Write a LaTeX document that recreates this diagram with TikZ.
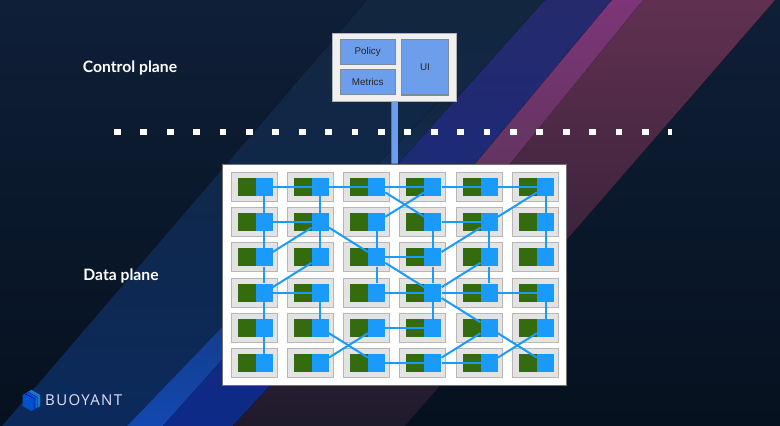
\documentclass[tikz,border=0pt]{standalone}
\usepackage{fontspec}
\usepackage{tikz}
\usetikzlibrary{positioning}
\setmainfont{Lato}
\newfontfamily\boxfont{Liberation Sans}
\newfontfamily\logofont[LetterSpace=9]{Open Sans}
\definecolor{bgtop}{HTML}{0F1F38}
\definecolor{bgbot}{HTML}{06111F}
\definecolor{widetop}{HTML}{12263E}
\definecolor{widebot}{HTML}{0B2A5C}
\definecolor{bluetop}{HTML}{262A6C}
\definecolor{bluemid}{HTML}{14285C}
\definecolor{bluebot}{HTML}{0D2A88}
\definecolor{brightbot}{HTML}{1348B0}
\definecolor{redtop}{HTML}{613050}
\definecolor{redmid}{HTML}{4A2A45}
\definecolor{redbot}{HTML}{1F1A2C}
\definecolor{magtop}{HTML}{7C3578}
\definecolor{magmid}{HTML}{7F3370}
\definecolor{magbot}{HTML}{633460}
\definecolor{boxblue}{HTML}{6D9EEB}
\definecolor{boxline}{HTML}{7F8A99}
\definecolor{podgray}{HTML}{E3E3E3}
\definecolor{podline}{HTML}{B7B7B7}
\definecolor{podgreen}{HTML}{336B0E}
\definecolor{proxyblue}{HTML}{1A9BFC}
\tikzset{
	podbox/.style={rectangle,draw=podline,fill=podgray,line width=1pt,minimum width=46pt,minimum height=29pt,inner sep=0pt},
	podapp/.style={rectangle,fill=podgreen,minimum width=18pt,minimum height=18pt,inner sep=0pt},
	podproxy/.style={rectangle,fill=proxyblue,minimum width=17pt,minimum height=18pt,inner sep=0pt},
	link/.style={every edge/.style={draw=proxyblue,line width=2pt}},
	ctrlbox/.style={rectangle,draw=boxline,fill=boxblue,line width=1.2pt,inner sep=0pt,font=\boxfont\fontsize{9.8}{11}\selectfont,text=black!85},
	title/.style={text=white,font=\bfseries\fontsize{15.7}{18}\selectfont,inner sep=0pt}
}
% one pod: gray box, green app, blue proxy on top
\def\pod#1#2{%
\coordinate[#2] (c#1);
\node[podbox]		(b#1)	at ([xshift=-10pt]c#1)		{};
\node[podapp]		(a#1)	at ([xshift=-17.5pt]c#1)	{};
\node[podproxy]		(#1)	at (c#1)					{};
}
\begin{document}
\begin{tikzpicture}[x=1pt,y=-1pt,node distance=35.2pt and 56.3pt,on grid]
\useasboundingbox (0,0) rectangle (780,426);
% background bands
\fill[top color=bgtop,bottom color=bgbot] (0,0) rectangle (780,426);
\fill[top color=widetop,bottom color=widebot] (367,0) -- (545,0) -- (163,426) -- (2,426) -- cycle;
\fill[top color=widetop,bottom color=brightbot] (440,100) -- (476,100) -- (163,426) -- (127,426) -- cycle;
\fill[top color=bluetop,middle color=bluemid,bottom color=bluebot] (545,0) -- (612,0) -- (470,170) -- (233,426) -- (163,426) -- cycle;
\fill[top color=redtop,middle color=redmid,bottom color=redbot] (612,0) -- (775,0) -- (405,426) -- (233,426) -- (470,170) -- cycle;
\fill[top color=magtop,middle color=magmid,bottom color=magbot] (612,0) -- (643,0) -- (505,170) -- (470,170) -- cycle;
% dotted divider
\coordinate (dl) at (114,132);
\coordinate (dr) at (672.2,132);
\draw[white,line width=6.5pt,dash pattern=on 6.8pt off 19.6pt] (dl) -- (dr);
% planes
\node[rectangle,draw=black!55,fill=white,line width=.8pt,minimum width=344pt,minimum height=221pt,inner sep=0pt] (panel) at (394.6,274.5) {};
\node[rectangle,draw=black!30,fill=black!6,line width=1pt,minimum width=124pt,minimum height=67.6pt,inner sep=0pt] (control) at (394.7,67.2) {};
\draw[boxblue,line width=6.5pt] (control) -- (panel);
\node[ctrlbox,minimum width=55pt,minimum height=25.7pt]		(policy)	[above left=15.2pt and 27pt of control]		{Policy};
\node[ctrlbox,minimum width=55pt,minimum height=25.7pt]		(metrics)	[below=30pt of policy]						{Metrics};
\node[ctrlbox,minimum width=46.6pt,minimum height=55.7pt]	(ui)		[right=30.3pt of control]					{UI};
\node[title]	(cplane)	at (130,68)		{Control plane};
\node[title]	(dplane)	at (121,276)	{Data plane};
% pods
\pod{n00}{above left=87.5pt and 130.6pt of panel}
\pod{n01}{right=of n00}
\pod{n02}{right=of n01}
\pod{n03}{right=of n02}
\pod{n04}{right=of n03}
\pod{n05}{right=of n04}
\pod{n10}{below=of n00}
\pod{n11}{right=of n10}
\pod{n12}{right=of n11}
\pod{n13}{right=of n12}
\pod{n14}{right=of n13}
\pod{n15}{right=of n14}
\pod{n20}{below=of n10}
\pod{n21}{right=of n20}
\pod{n22}{right=of n21}
\pod{n23}{right=of n22}
\pod{n24}{right=of n23}
\pod{n25}{right=of n24}
\pod{n30}{below=of n20}
\pod{n31}{right=of n30}
\pod{n32}{right=of n31}
\pod{n33}{right=of n32}
\pod{n34}{right=of n33}
\pod{n35}{right=of n34}
\pod{n40}{below=of n30}
\pod{n41}{right=of n40}
\pod{n42}{right=of n41}
\pod{n43}{right=of n42}
\pod{n44}{right=of n43}
\pod{n45}{right=of n44}
\pod{n50}{below=of n40}
\pod{n51}{right=of n50}
\pod{n52}{right=of n51}
\pod{n53}{right=of n52}
\pod{n54}{right=of n53}
\pod{n55}{right=of n54}
\path[link]
(n00)	edge	(n01)
		edge	(n10)
(n01)	edge	(n02)
		edge	(n11)
(n02)	edge	(n03)
		edge	(n13)
(n03)	edge	(n04)
		edge	(n12)
(n04)	edge	(n05)
(n05)	edge	(n14)
		edge	(n15)
(n10)	edge	(n11)
		edge	(n20)
(n11)	edge	(n20)
		edge	(n21)
		edge	(n22)
(n12)	edge	(n22)
(n13)	edge	(n14)
		edge	(n23)
(n14)	edge	(n23)
		edge	(n24)
(n15)	edge	(n25)
(n20)	edge	(n30)
(n21)	edge	(n30)
(n22)	edge	(n23)
		edge	(n32)
		edge	(n33)
(n23)	edge	(n33)
(n24)	edge	(n33)
		edge	(n34)
(n30)	edge	(n31)
		edge	(n40)
(n31)	edge	(n41)
(n32)	edge	(n33)
(n33)	edge	(n34)
		edge	(n43)
		edge	(n44)
(n34)	edge	(n35)
(n35)	edge	(n45)
(n40)	edge	(n50)
(n41)	edge	(n52)
(n42)	edge	(n43)
		edge	(n51)
(n44)	edge	(n53)
		edge	(n55)
(n45)	edge	(n54)
(n52)	edge	(n53)
(n53)	edge	(n54)
;
% logo
\fill[blue!60!cyan!80!black] (31.5,390) -- (40,395) -- (40,406) -- (31.5,411) -- (22.5,406) -- (22.5,395) -- cycle;
\fill[cyan!60!blue] (31.5,390) -- (40,395) -- (40,406) -- (36,408) -- (36,397) -- (27,392.5) -- cycle;
\draw[blue!70!black,line width=.5pt] (25,393.7) -- (34,398.5) -- (34,409) (28,392) -- (37,397) -- (37,407.5);
\node[text=white!88!blue,font=\logofont\fontsize{15}{17}\selectfont,anchor=west,inner sep=0pt] (logo) at (45,400.5) {BUOYANT};
\end{tikzpicture}
\end{document}
